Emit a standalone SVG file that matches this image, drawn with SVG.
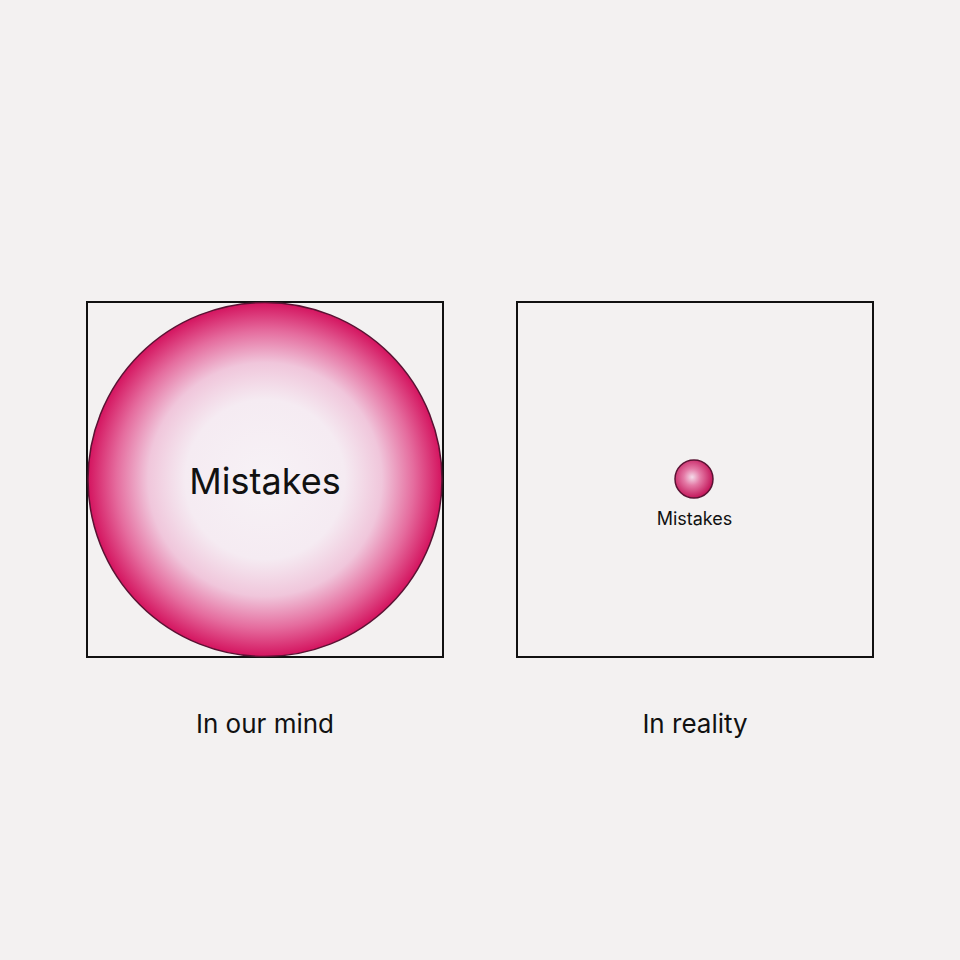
<svg xmlns="http://www.w3.org/2000/svg" width="960" height="960" viewBox="0 0 960 960">
<defs>
<radialGradient id="big" cx="0.5" cy="0.5" r="0.5">
<stop offset="0" stop-color="#f7f2f6"/>
<stop offset="0.45" stop-color="#f5ebf2"/>
<stop offset="0.66" stop-color="#f0c6db"/>
<stop offset="0.84" stop-color="#e56c9e"/>
<stop offset="1" stop-color="#d4145f"/>
</radialGradient>
<radialGradient id="small" cx="0.45" cy="0.45" r="0.55">
<stop offset="0" stop-color="#f4dcea"/>
<stop offset="0.4" stop-color="#e47aa6"/>
<stop offset="1" stop-color="#c3165a"/>
</radialGradient>
<style>
.box{fill:none;stroke:#111;stroke-width:2}
.lbl{font-family:Inter,"Liberation Sans",Arial,sans-serif;fill:#111;text-anchor:middle}
</style>
</defs>
<rect width="960" height="960" fill="#f3f1f1"/>
<g id="mind">
<rect class="box" x="87" y="302" width="356" height="355"/>
<circle cx="265" cy="479.5" r="177" fill="url(#big)" stroke="#5a1233" stroke-width="1.5"/>
<text class="lbl" x="265" y="494" font-size="36">Mistakes</text>
<text class="lbl" x="265" y="733" font-size="26">In our mind</text>
</g>
<g id="reality">
<rect class="box" x="517" y="302" width="356" height="355"/>
<circle cx="694" cy="479" r="19" fill="url(#small)" stroke="#5a1233" stroke-width="1.5"/>
<text class="lbl" x="694.5" y="525" font-size="18">Mistakes</text>
<text class="lbl" x="695" y="733" font-size="26">In reality</text>
</g>
</svg>
